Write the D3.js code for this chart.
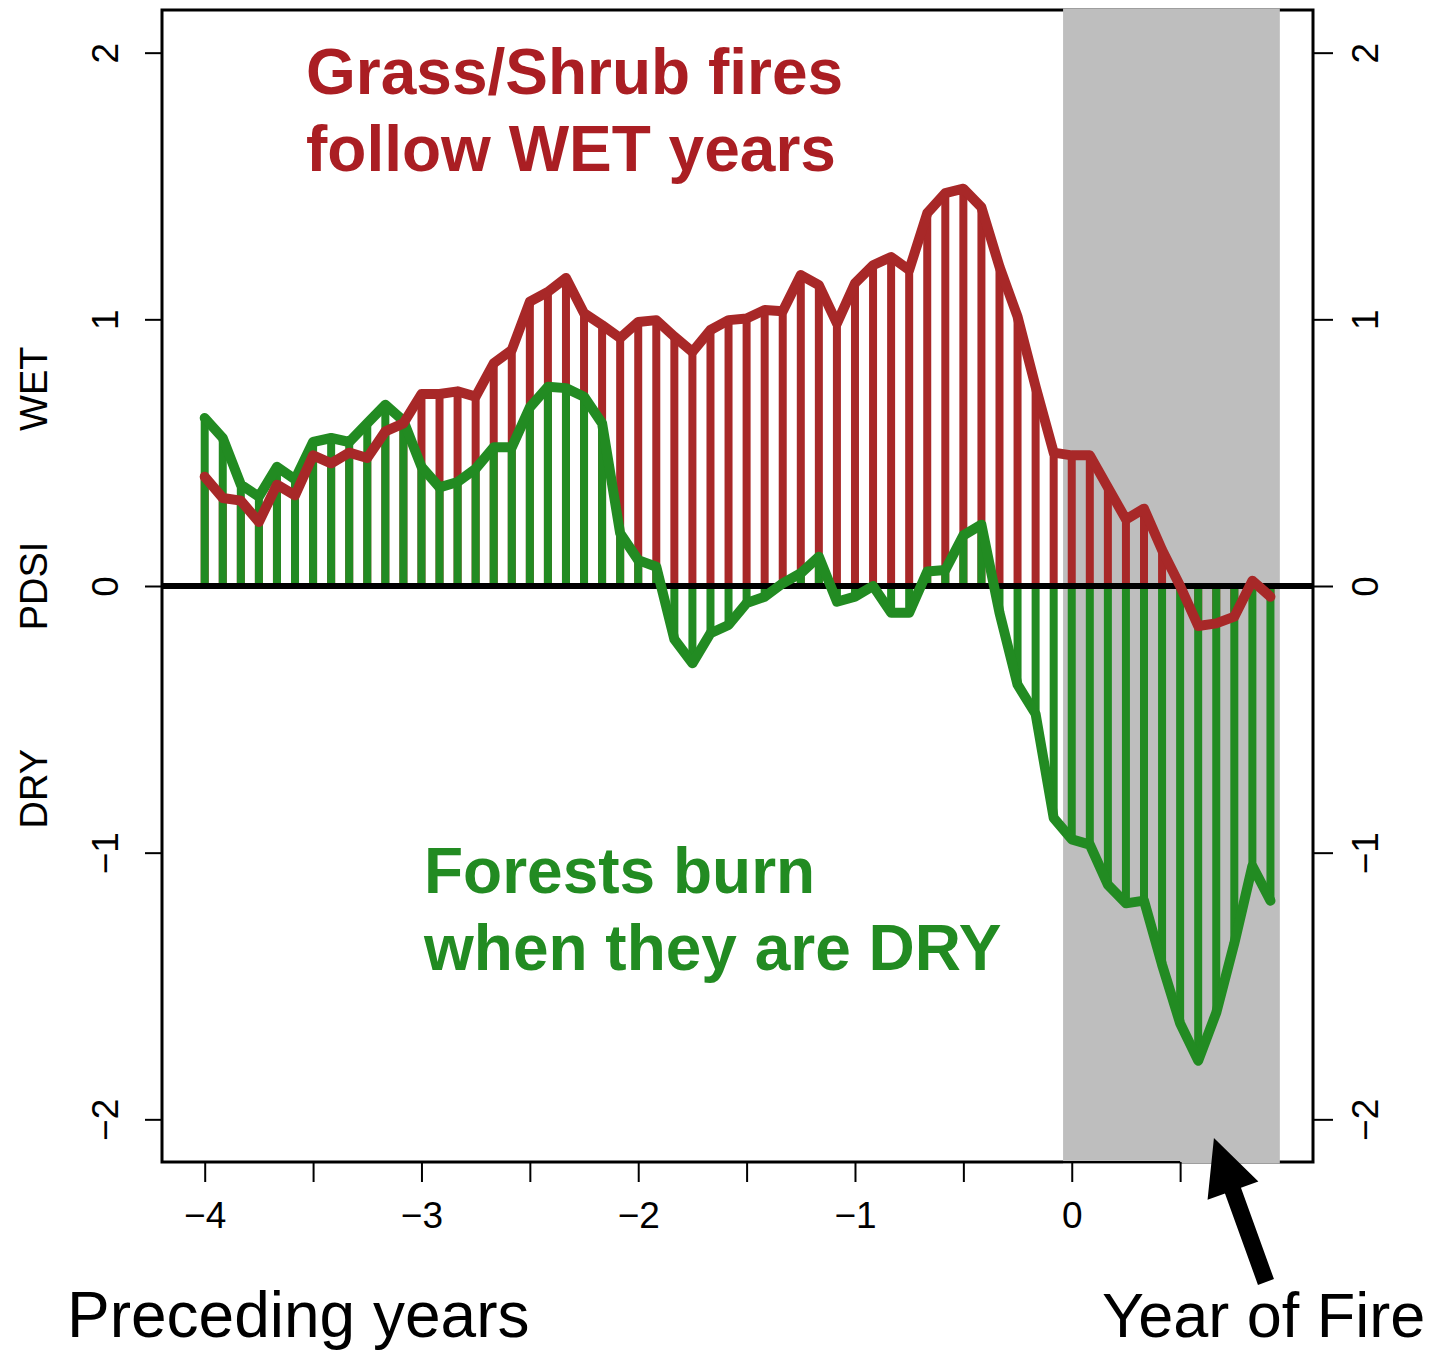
<!DOCTYPE html>
<html>
<head>
<meta charset="utf-8">
<script src="https://cdn.jsdelivr.net/npm/d3@7"></script>
<style>
  body { margin: 0; background: #fff; }
  svg { display: block; }
  text { font-family: "Liberation Sans", Arial, Helvetica, sans-serif; }
</style>
</head>
<body>
<div id="chart"></div>
<script>
// Monthly PDSI composites, first month is 4 years before the fire year
const startYear = -4;
const monthsPerYear = 12;

// Grass/shrub fires (red)
const grassShrub = [
    0.41, 0.33, 0.32, 0.24, 0.38, 0.34, 0.49, 0.46, 0.50, 0.48, 0.58, 0.61,
    0.72, 0.72, 0.73, 0.71, 0.835, 0.885, 1.066, 1.103, 1.155, 1.023, 0.978, 0.93,
    0.99, 0.997, 0.935, 0.878, 0.96, 0.997, 1.003, 1.035, 1.03, 1.166, 1.128, 0.985,
    1.135, 1.203, 1.234, 1.185, 1.398, 1.473, 1.49, 1.42, 1.197, 1.01, 0.747, 0.50,
    0.49, 0.49, 0.37, 0.25, 0.29, 0.135, 0.0, -0.15, -0.14, -0.115, 0.02, -0.04
];

// Forest fires (green)
const forest = [
    0.63, 0.555, 0.38, 0.335, 0.447, 0.40, 0.54, 0.555, 0.54, 0.61, 0.68, 0.62,
    0.447, 0.37, 0.39, 0.44, 0.52, 0.52, 0.67, 0.747, 0.742, 0.71, 0.61, 0.198,
    0.097, 0.072, -0.2, -0.29, -0.177, -0.146, -0.064, -0.04, 0.01, 0.048, 0.11, -0.059,
    -0.04, 0.0, -0.1, -0.1, 0.054, 0.06, 0.19, 0.23, -0.1, -0.37, -0.48, -0.87,
    -0.95, -0.97, -1.12, -1.19, -1.18, -1.42, -1.64, -1.78, -1.60, -1.34, -1.05, -1.18
];

const xTicks = [-4, -3.5, -3, -2.5, -2, -1.5, -1, -0.5, 0, 0.5];
const xLabels = [-4, -3, -2, -1, 0];
const yTicks = [-2, -1, 0, 1, 2];
const sideLabels = ['DRY', 'PDSI', 'WET'];
const fireYear = [-0.04, 0.96];

const width = 1435;
const height = 1353;
const red = '#a82828';
const green = '#228b22';

const svg = d3.select('#chart').append('svg')
    .attr('width', width)
    .attr('height', height);

const x = d3.scaleLinear().domain([-4.197, 1.113]).range([162, 1313]);
const y = d3.scaleLinear().domain([-2.16, 2.16]).range([1162, 10]);
const monthX = i => x(startYear + i / monthsPerYear);
const fmt = d3.format('d');

// plot box
svg.append('rect')
    .attr('x', x.range()[0])
    .attr('y', y.range()[1])
    .attr('width', x.range()[1] - x.range()[0])
    .attr('height', y.range()[0] - y.range()[1])
    .style('fill', 'none')
    .style('stroke', '#000')
    .style('stroke-width', 3);

// year of fire shading (sits over the bottom border, the axis goes on top)
svg.append('rect')
    .attr('x', x(fireYear[0]))
    .attr('y', y.range()[1] - 1.5)
    .attr('width', x(fireYear[1]) - x(fireYear[0]))
    .attr('height', y.range()[0] - y.range()[1] + 3)
    .style('fill', '#bebebe');

// axes
const styleAxis = g => {
    g.attr('font-family', '"Liberation Sans", Arial, sans-serif').attr('font-size', 37);
    g.selectAll('.tick line').style('stroke-width', 2);
    g.select('.domain').remove();
};

svg.append('g')
    .attr('transform', `translate(${x.range()[0]},0)`)
    .call(d3.axisLeft(y).tickValues(yTicks).tickSize(17).tickFormat(fmt))
    .call(styleAxis)
    .selectAll('.tick text')
    .attr('x', null).attr('dy', null)
    .attr('text-anchor', 'middle')
    .attr('transform', 'translate(-44,0) rotate(-90)');

svg.append('g')
    .attr('transform', `translate(${x.range()[1]},0)`)
    .call(d3.axisRight(y).tickValues(yTicks).tickSize(20).tickFormat(fmt))
    .call(styleAxis)
    .selectAll('.tick text')
    .attr('x', null).attr('dy', null)
    .attr('text-anchor', 'middle')
    .attr('transform', 'translate(65,0) rotate(-90)');

const xAxis = svg.append('g')
    .attr('transform', `translate(0,${y.range()[0]})`)
    .call(d3.axisBottom(x).tickValues(xTicks).tickSize(20)
        .tickFormat(d => (xLabels.includes(d) ? fmt(d) : '')))
    .call(styleAxis);
xAxis.selectAll('.tick text').attr('y', 66).attr('dy', null);
xAxis.append('line')
    .attr('x1', x(xTicks[0]))
    .attr('x2', x(xTicks[xTicks.length - 1]))
    .style('stroke', '#000')
    .style('stroke-width', 2);

// side labels WET / PDSI / DRY
const sideY = [-0.76, 0, 0.74];
svg.selectAll('.side-label')
    .data(sideLabels)
    .enter().append('text')
    .attr('class', 'side-label')
    .attr('text-anchor', 'middle')
    .attr('font-size', 38)
    .attr('transform', (d, i) => `translate(47,${y(sideY[i])}) rotate(-90)`)
    .text(d => d);

// vertical bars, red first, green on top
const drawBars = (values, color) => {
    svg.append('g')
        .selectAll('line')
        .data(values)
        .enter().append('line')
        .attr('x1', (d, i) => monthX(i))
        .attr('x2', (d, i) => monthX(i))
        .attr('y1', y(0))
        .attr('y2', d => y(d))
        .style('stroke', color)
        .style('stroke-width', 8);
};
drawBars(grassShrub, red);
drawBars(forest, green);

// zero line
svg.append('line')
    .attr('x1', x.range()[0])
    .attr('x2', x.range()[1])
    .attr('y1', y(0))
    .attr('y2', y(0))
    .style('stroke', '#000')
    .style('stroke-width', 6);

const line = d3.line()
    .x((d, i) => monthX(i))
    .y(d => y(d));

[[forest, green], [grassShrub, red]].forEach(([values, color]) => {
    svg.append('path')
        .attr('d', line(values))
        .style('fill', 'none')
        .style('stroke', color)
        .style('stroke-width', 10)
        .style('stroke-linejoin', 'round')
        .style('stroke-linecap', 'round');
});

// annotations
const note = (lines, color, left, baseline) => {
    lines.forEach((t, i) => {
        svg.append('text')
            .attr('x', left)
            .attr('y', baseline + i * 77)
            .attr('font-size', 64)
            .attr('font-weight', 'bold')
            .style('fill', color)
            .text(t);
    });
};
note(['Grass/Shrub fires', 'follow WET years'], '#aa1e23', 306, 94);
note(['Forests burn', 'when they are DRY'], green, 424, 893);

svg.append('text')
    .attr('x', 67)
    .attr('y', 1337)
    .attr('font-size', 64)
    .text('Preceding years');

svg.append('text')
    .attr('x', 1102)
    .attr('y', 1337)
    .attr('font-size', 63)
    .text('Year of Fire');

// arrow pointing at the fire year
const tip = [x(0.656), y(-2.07)];
const tail = [x(0.896), y(-2.61)];
const dx = tip[0] - tail[0];
const dy = tip[1] - tail[1];
const len = Math.hypot(dx, dy);
const ux = dx / len;
const uy = dy / len;
const px = -uy;
const py = ux;
const headLen = 56;
const headHalf = 27;
const shaftHalf = 8.5;
const base = [tip[0] - ux * headLen, tip[1] - uy * headLen];
const arrowPts = [
    [tail[0] + px * shaftHalf, tail[1] + py * shaftHalf],
    [base[0] + px * shaftHalf, base[1] + py * shaftHalf],
    [base[0] + px * headHalf, base[1] + py * headHalf],
    tip,
    [base[0] - px * headHalf, base[1] - py * headHalf],
    [base[0] - px * shaftHalf, base[1] - py * shaftHalf],
    [tail[0] - px * shaftHalf, tail[1] - py * shaftHalf]
];
svg.append('path')
    .attr('d', `M${arrowPts.map(p => p.join(',')).join('L')}Z`)
    .style('fill', '#000');
</script>
</body>
</html>
